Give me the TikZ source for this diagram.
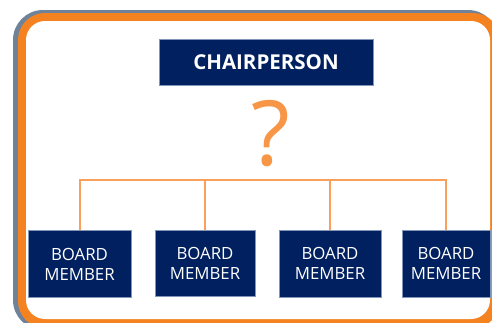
\documentclass[tikz,border=0pt]{standalone}
\usepackage{fontspec}
\setmainfont{Open Sans}
\definecolor{navy}{HTML}{002060}
\definecolor{navyedge}{HTML}{8095B8}
\definecolor{frameorange}{HTML}{F58220}
\definecolor{framegray}{HTML}{6E8299}
\definecolor{lineorange}{HTML}{F9A05C}
\definecolor{qorange}{HTML}{F79646}
\begin{document}
\begin{tikzpicture}[x=1pt,y=-1pt,
  boardbox/.style={fill=navy,draw=navyedge,line width=0.6pt,text=white,
    minimum width=103pt,minimum height=67pt,inner sep=0pt,align=center,
    font=\fontsize{16.8}{20}\selectfont},
  chairbox/.style={fill=navy,draw=navyedge,line width=0.6pt,text=white,
    minimum width=214pt,minimum height=46pt,inner sep=0pt,
    font=\fontsize{20.5}{24}\selectfont\bfseries},
  conn/.style={draw=lineorange,line width=2pt}]
\useasboundingbox (0,0) rectangle (492,322);
% frame
\fill[framegray,rounded corners=30pt] (13,10) rectangle (498,330);
\fill[frameorange,rounded corners=27pt] (18,13) rectangle (500,328);
\fill[white,rounded corners=19pt] (26,21) rectangle (490,319);
% nodes
\node[chairbox] (chair) at (266,62) {CHAIRPERSON};
\node[text=qorange,font=\fontsize{90}{90}\selectfont,inner sep=0pt,anchor=base] (q) at (271,165) {?};
\node[boardbox,minimum width=103pt] (b1) at (79.5,264) {BOARD\\MEMBER};
\node[boardbox,minimum width=100pt,minimum height=66pt] (b2) at (205,263) {BOARD\\MEMBER};
\node[boardbox,minimum width=102pt] (b3) at (330,263.5) {BOARD\\MEMBER};
\node[boardbox,minimum width=88pt] (b4) at (446,263.5) {BOARD\\MEMBER};
\coordinate (bus) at (266,180);
\draw[conn] (b1.north) |- (bus);
\draw[conn] (b2.north) |- (bus);
\draw[conn] (b3.north) |- (bus);
\draw[conn] (b4.north) |- (bus);
\end{tikzpicture}
\end{document}
